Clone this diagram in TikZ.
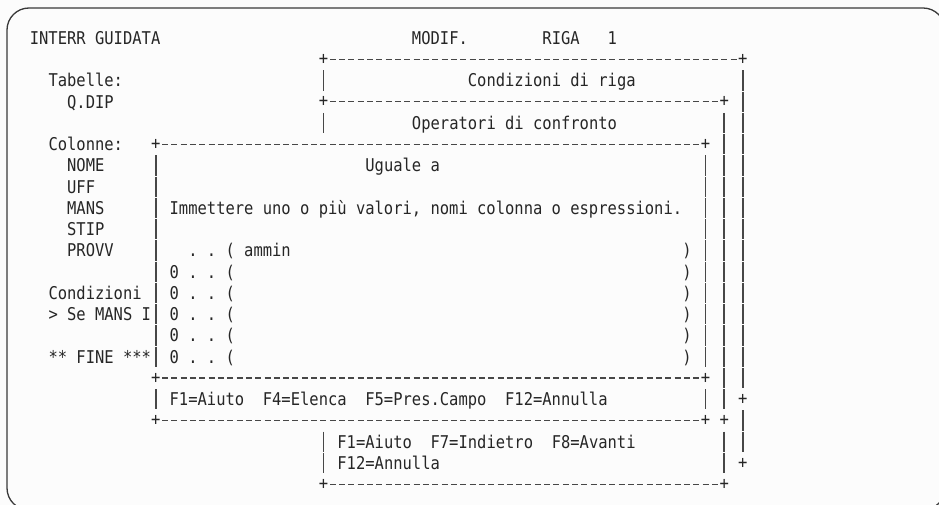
\documentclass[tikz,border=0pt]{standalone}
\usepackage{fontspec}
\newfontfamily\scrfont[FakeStretch=0.88]{DejaVu Sans Mono}
\definecolor{txtc}{HTML}{262626}
\definecolor{lnc}{HTML}{474747}
\definecolor{bgc}{HTML}{FCFCFC}
\definecolor{framec}{HTML}{3A3A3A}
\begin{document}
\begin{tikzpicture}[
  scr/.style={font=\scrfont\fontsize{17.59pt}{21pt}\selectfont, text=txtc, inner sep=0pt, outer sep=0pt},
  lbl/.style={scr, anchor=base west},
  crn/.style={scr, anchor=center},
  hdash/.style={draw=lnc, line width=1.3pt, dash pattern=on 6pt off 3.32pt, dash phase=7.66pt},
  vbar/.style={draw=lnc, line width=1.7pt, dash pattern=on 20.25pt off 1pt, dash phase=20.75pt},
]
\useasboundingbox (0,0) rectangle (939pt,-505pt);
\fill[bgc] (0,0) rectangle (939pt,-505pt);
\draw[rounded corners=22pt, line width=1.3pt, draw=framec] (7pt,-8pt) rectangle (945pt,-510pt);

\begin{scope}[shift={(25.2pt,-38pt)}, x=9.32pt, y=-21.25pt]
% ---------- header
\node[lbl] (hdr)   at (0.5,0.3)  {INTERR~GUIDATA};
\node[lbl] (modif) at (41.5,0.3) {MODIF.};
\node[lbl] (riga)  at (55.5,0.3) {RIGA~~~1};
% ---------- left column texts
\node[lbl] (tab)   at (2.5,2.3)  {Tabelle:};
\node[lbl] (qdip)  at (4.5,3.3)  {Q.DIP};
\node[lbl] (col)   at (2.5,5.3)  {Colonne:};
\node[lbl] (nome)  at (4.5,6.3)  {NOME};
\node[lbl] (uff)   at (4.5,7.3)  {UFF};
\node[lbl] (mans)  at (4.5,8.3)  {MANS};
\node[lbl] (stip)  at (4.5,9.3)  {STIP};
\node[lbl] (provv) at (4.5,10.3) {PROVV};
\node[lbl] (cond)  at (2.5,12.3) {Condizioni};
\node[lbl] (sem)   at (2.5,13.3) {>~Se~MANS~I};
\node[lbl] (fine)  at (2.5,15.3) {**~FINE~***};
% ---------- window titles
\node[lbl] (tcr)   at (47.5,2.3) {Condizioni~di~riga};
\node[lbl] (toc)   at (41.5,4.3) {Operatori~di~confronto};
\node[lbl] (tug)   at (36.5,6.3) {Uguale~a};
\node[lbl] (imm)   at (15.5,8.3) {Immettere~uno~o~più~valori,~nomi~colonna~o~espressioni.};
% ---------- entry rows
\node[lbl] (e0) at (17.5,10.3) {.~.~(~ammin};
\node[lbl] (e1) at (15.5,11.3) {0~.~.~(};
\node[lbl] (e2) at (15.5,12.3) {0~.~.~(};
\node[lbl] (e3) at (15.5,13.3) {0~.~.~(};
\node[lbl] (e4) at (15.5,14.3) {0~.~.~(};
\node[lbl] (e5) at (15.5,15.3) {0~.~.~(};
\foreach \r in {10,...,15} { \node[lbl] (cl\r) at (70.5,\r+0.3) {)}; }
% ---------- function keys
\node[lbl] (fk1) at (15.5,17.3) {F1=Aiuto~~F4=Elenca~~F5=Pres.Campo~~F12=Annulla};
\node[lbl] (fk2) at (33.5,19.3) {F1=Aiuto~~F7=Indietro~~F8=Avanti};
\node[lbl] (fk3) at (33.5,20.3) {F12=Annulla};
% ---------- corner pluses
\node[crn] (a1) at (32,1) {+};
\node[crn] (a2) at (77,1) {+};
\node[crn] (b1) at (32,3) {+};
\node[crn] (b2) at (75,3) {+};
\node[crn] (c1) at (14,5) {+};
\node[crn] (c2) at (73,5) {+};
\node[crn] (d1) at (14,16) {+};
\node[crn] (d2) at (73,16) {+};
\node[crn] (p1) at (77,17) {+};
\node[crn] (f1) at (14,18) {+};
\node[crn] (f2) at (73,18) {+};
\node[crn] (f3) at (75,18) {+};
\node[crn] (p2) at (77,20) {+};
\node[crn] (g1) at (32,21) {+};
\node[crn] (g2) at (75,21) {+};
% ---------- horizontal dashed edges
\draw[hdash] (a1.east) -- (a2.west);
\draw[hdash] (b1.east) -- (b2.west);
\draw[hdash] (c1.east) -- (c2.west);
\draw[hdash] (d1.east) -- (d2.west);
\draw[hdash] (f1.east) -- (f2.west);
\draw[hdash] (g1.east) -- (g2.west);
% ---------- vertical bars
\draw[vbar] (32,1.5) -- (32,2.5);
\draw[vbar] (32,3.5) -- (32,4.5);
\draw[vbar] (32,18.5) -- (32,20.5);
\draw[vbar] (77,1.5) -- (77,16.5);
\draw[vbar] (77,17.5) -- (77,19.5);
\draw[vbar] (75,3.5) -- (75,17.5);
\draw[vbar] (75,18.5) -- (75,20.5);
\draw[vbar] (73,5.5) -- (73,15.5);
\draw[vbar] (73,16.5) -- (73,17.5);
\draw[vbar] (14,5.5) -- (14,15.5);
\draw[vbar] (14,16.5) -- (14,17.5);
\end{scope}
\end{tikzpicture}
\end{document}
